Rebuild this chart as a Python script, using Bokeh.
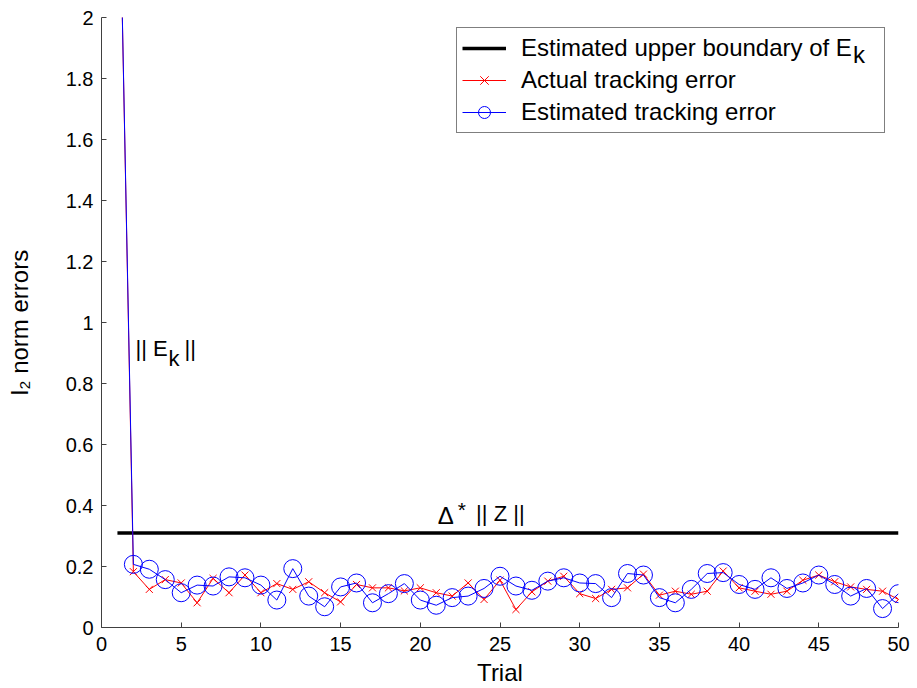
from bokeh.plotting import figure
from bokeh.models import (Range1d, FixedTicker, CustomJSTickFormatter, Legend,
                          LegendItem, Label, ColumnDataSource)
from bokeh.embed import file_html
from bokeh.resources import INLINE

# ---------------- data ----------------
trials = list(range(1, 51))
actual_error = [2.8, 0.183, 0.125, 0.157, 0.146, 0.081, 0.161, 0.114, 0.172, 0.114,
                0.144, 0.125, 0.150, 0.114, 0.084, 0.141, 0.130, 0.130, 0.120, 0.130,
                0.114, 0.103, 0.146, 0.092, 0.155, 0.059, 0.117, 0.152, 0.168, 0.111,
                0.095, 0.125, 0.130, 0.175, 0.106, 0.119, 0.109, 0.119, 0.185, 0.130,
                0.119, 0.109, 0.119, 0.155, 0.172, 0.150, 0.133, 0.125, 0.119, 0.092]
estimated_error = [2.8, 0.207, 0.191, 0.157, 0.114, 0.139, 0.136, 0.166, 0.163, 0.139,
                   0.090, 0.193, 0.103, 0.068, 0.133, 0.146, 0.081, 0.111, 0.144, 0.090,
                   0.073, 0.098, 0.103, 0.128, 0.168, 0.136, 0.122, 0.152, 0.163, 0.146,
                   0.144, 0.098, 0.177, 0.172, 0.098, 0.081, 0.125, 0.177, 0.180, 0.141,
                   0.125, 0.163, 0.128, 0.146, 0.172, 0.141, 0.103, 0.128, 0.062, 0.111]
boundary_x = [1, 50]
boundary_y = [0.31, 0.31]
x_ticks = [0, 5, 10, 15, 20, 25, 30, 35, 40, 45, 50]
y_ticks = [0, 0.2, 0.4, 0.6, 0.8, 1.0, 1.2, 1.4, 1.6, 1.8, 2.0]

FONT = "Liberation Sans"

p = figure(width=915, height=688, output_backend="svg", toolbar_location=None,
           x_range=Range1d(0, 50), y_range=Range1d(0, 2),
           min_border_left=101, min_border_right=17, min_border_top=17,
           min_border_bottom=61)
p.outline_line_color = None
p.xgrid.visible = False
p.ygrid.visible = False
p.background_fill_color = "white"
p.border_fill_color = "white"

src = ColumnDataSource(dict(t=trials, a=actual_error, e=estimated_error))

r_bound = p.line(boundary_x, boundary_y, line_color="black", line_width=3.5)
r_act_l = p.line("t", "a", source=src, line_color="#FF0000", line_width=1)
r_act_m = p.scatter("t", "a", source=src, marker="x", size=10, line_color="#FF0000",
                    line_width=1)
r_est_l = p.line("t", "e", source=src, line_color="#0000FF", line_width=1)
r_est_m = p.scatter("t", "e", source=src, marker="circle", size=18,
                    line_color="#0000FF", fill_color=None, line_width=1)

for ax in (p.xaxis[0], p.yaxis[0]):
    ax.axis_line_color = "#404040"
    ax.major_tick_line_color = "#404040"
    ax.major_tick_in = 5
    ax.major_tick_out = 0
    ax.minor_tick_line_color = None
    ax.major_label_text_font = FONT
    ax.major_label_text_font_size = "20px"
    ax.major_label_text_color = "black"
    ax.axis_label_text_font = FONT
    ax.axis_label_text_font_size = "24px"
    ax.axis_label_text_font_style = "normal"
    ax.axis_label_text_color = "black"

p.xaxis.ticker = FixedTicker(ticks=x_ticks)
p.yaxis.ticker = FixedTicker(ticks=y_ticks)
p.yaxis.formatter = CustomJSTickFormatter(
    code="return tick.toFixed(1).replace(/\\.0$/, '');")
p.xaxis.axis_label = "Trial"
p.yaxis.axis_label = "l\u2082 norm errors"
p.xaxis.major_label_standoff = 9
p.yaxis.major_label_standoff = 8
p.xaxis.axis_label_standoff = 5
p.yaxis.axis_label_standoff = 30

legend = Legend(items=[
    LegendItem(label="Estimated upper boundary of E", renderers=[r_bound]),
    LegendItem(label="Actual tracking error", renderers=[r_act_l, r_act_m]),
    LegendItem(label="Estimated tracking error", renderers=[r_est_l, r_est_m]),
], location=(355, 494))
legend.label_text_font = FONT
legend.label_text_font_size = "24px"
legend.label_text_color = "black"
legend.border_line_color = "black"
legend.border_line_width = 1
legend.background_fill_alpha = 0.0
legend.padding = 5
legend.spacing = 2
legend.glyph_width = 44
legend.glyph_height = 30
legend.label_height = 30
legend.label_standoff = 15
legend.label_width = 358
legend.margin = 0
p.add_layout(legend)

def lab(x, y, text, size):
    p.add_layout(Label(x=x, y=y, text=text, text_font=FONT, text_font_size=size,
                       text_color="black", text_baseline="alphabetic",
                       text_align="left"))

# subscript k of legend entry
lab(47.15, 1.879, "k", "24px")
# || E_k ||
lab(2.13, 0.9145, "|| E", "22px")
lab(4.2, 0.882, "k", "22px")
lab(5.21, 0.9145, "||", "22px")
# Delta* || Z ||
lab(21.09, 0.367, "\u0394", "24px")
lab(22.35, 0.386, "*", "21px")
lab(23.5, 0.3735, "|| Z ||", "22px")

open("out.html", "w").write(file_html(p, INLINE))
